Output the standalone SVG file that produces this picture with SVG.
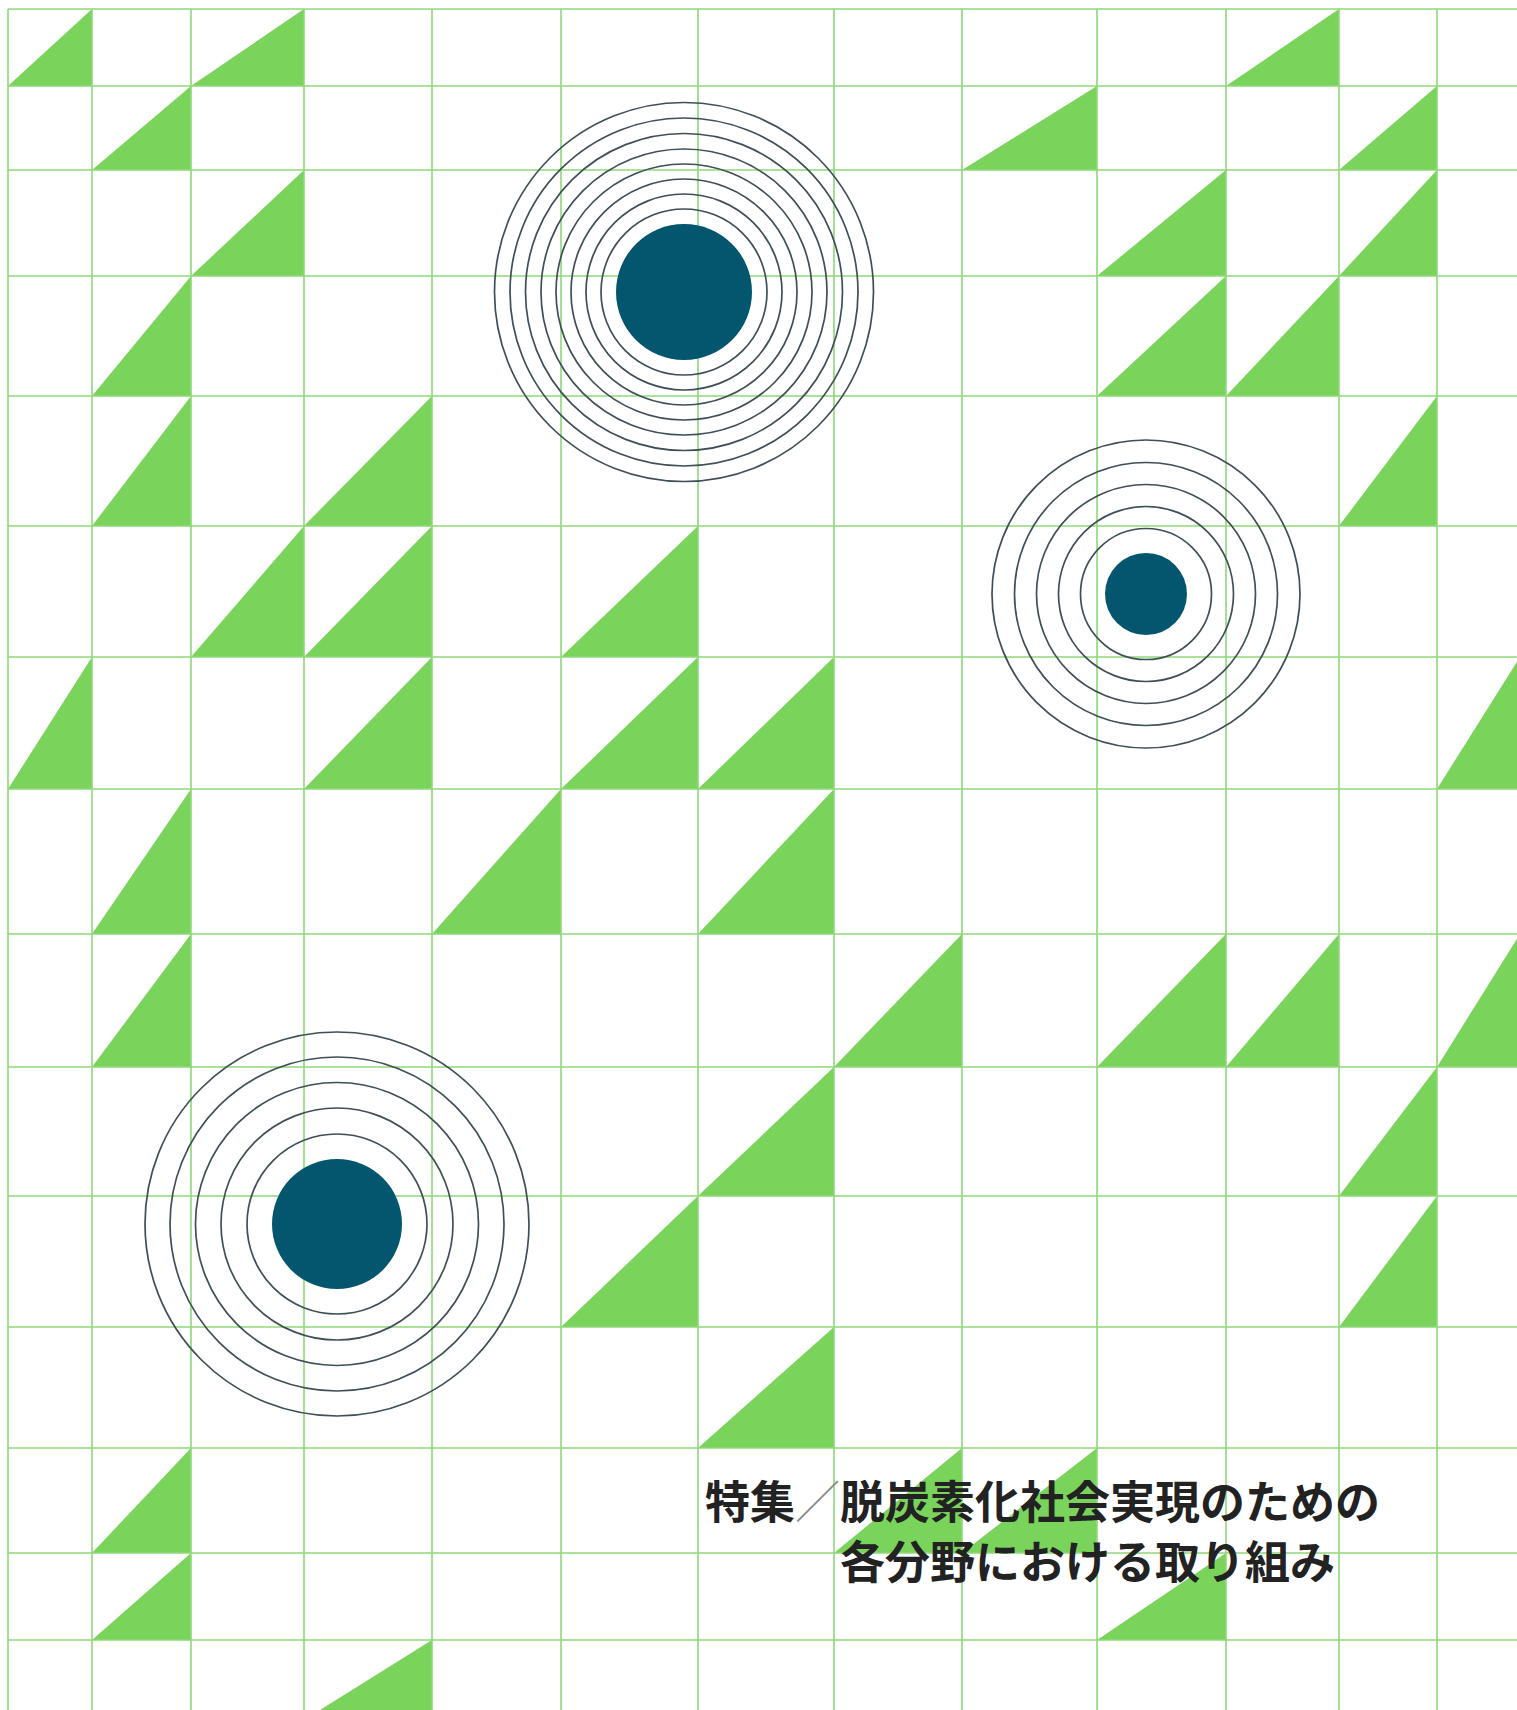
<svg xmlns="http://www.w3.org/2000/svg" width="1517" height="1710" viewBox="0 0 1517 1710">
<style>
.t{fill:#7ad35a}
.g{stroke:#8ed97a;stroke-width:1.6;fill:none}
.r{stroke:#3f4f58;stroke-width:1.7;fill:none}
.d{fill:#04566e}
.tx{font-family:"Noto Sans CJK JP","Noto Sans CJK SC",sans-serif;font-size:45px;font-weight:700;fill:#222}
.sl{fill:#8a8a8a;font-weight:300}
</style>
<rect width="1517" height="1710" fill="#fff"/>
<g id="triangles">
<polygon class="t" points="8,86 92,86 92,9"/>
<polygon class="t" points="191,86 304,86 304,9"/>
<polygon class="t" points="1226,86 1339,86 1339,9"/>
<polygon class="t" points="92,170 191,170 191,86"/>
<polygon class="t" points="962,170 1097,170 1097,86"/>
<polygon class="t" points="1339,170 1437,170 1437,86"/>
<polygon class="t" points="191,276 304,276 304,170"/>
<polygon class="t" points="1097,276 1226,276 1226,170"/>
<polygon class="t" points="1339,276 1437,276 1437,170"/>
<polygon class="t" points="92,396 191,396 191,276"/>
<polygon class="t" points="1097,396 1226,396 1226,276"/>
<polygon class="t" points="1226,396 1339,396 1339,276"/>
<polygon class="t" points="92,526 191,526 191,396"/>
<polygon class="t" points="304,526 432,526 432,396"/>
<polygon class="t" points="1339,526 1437,526 1437,396"/>
<polygon class="t" points="191,657 304,657 304,526"/>
<polygon class="t" points="304,657 432,657 432,526"/>
<polygon class="t" points="561,657 698,657 698,526"/>
<polygon class="t" points="8,789 92,789 92,657"/>
<polygon class="t" points="304,789 432,789 432,657"/>
<polygon class="t" points="561,789 698,789 698,657"/>
<polygon class="t" points="698,789 834,789 834,657"/>
<polygon class="t" points="1437,789 1520,789 1520,657"/>
<polygon class="t" points="92,934 191,934 191,789"/>
<polygon class="t" points="432,934 561,934 561,789"/>
<polygon class="t" points="698,934 834,934 834,789"/>
<polygon class="t" points="92,1067 191,1067 191,934"/>
<polygon class="t" points="834,1067 962,1067 962,934"/>
<polygon class="t" points="1097,1067 1226,1067 1226,934"/>
<polygon class="t" points="1226,1067 1339,1067 1339,934"/>
<polygon class="t" points="1437,1067 1520,1067 1520,934"/>
<polygon class="t" points="698,1196 834,1196 834,1067"/>
<polygon class="t" points="1339,1196 1437,1196 1437,1067"/>
<polygon class="t" points="561,1327 698,1327 698,1196"/>
<polygon class="t" points="1339,1327 1437,1327 1437,1196"/>
<polygon class="t" points="698,1448 834,1448 834,1327"/>
<polygon class="t" points="92,1553 191,1553 191,1448"/>
<polygon class="t" points="834,1553 962,1553 962,1448"/>
<polygon class="t" points="962,1553 1097,1553 1097,1448"/>
<polygon class="t" points="92,1640 191,1640 191,1553"/>
<polygon class="t" points="1097,1640 1226,1640 1226,1553"/>
<polygon class="t" points="304,1720 432,1720 432,1640"/>
</g>
<g id="grid" class="g">
<path d="M8,9H1517M8,86H1517M8,170H1517M8,276H1517M8,396H1517M8,526H1517M8,657H1517M8,789H1517M8,934H1517M8,1067H1517M8,1196H1517M8,1327H1517M8,1448H1517M8,1553H1517M8,1640H1517"/>
<path d="M8,9V1710M92,9V1710M191,9V1710M304,9V1710M432,9V1710M561,9V1710M698,9V1710M834,9V1710M962,9V1710M1097,9V1710M1226,9V1710M1339,9V1710M1437,9V1710"/>
</g>
<g id="target-top">
<circle class="r" cx="684" cy="292" r="83"/>
<circle class="r" cx="684" cy="292" r="98"/>
<circle class="r" cx="684" cy="292" r="113"/>
<circle class="r" cx="684" cy="292" r="128"/>
<circle class="r" cx="684" cy="292" r="143"/>
<circle class="r" cx="684" cy="292" r="158.5"/>
<circle class="r" cx="684" cy="292" r="174"/>
<circle class="r" cx="684" cy="292" r="189.5"/>
<circle class="d" cx="684" cy="292" r="68"/>
</g>
<g id="target-right">
<circle class="r" cx="1146" cy="594" r="65.5"/>
<circle class="r" cx="1146" cy="594" r="87.5"/>
<circle class="r" cx="1146" cy="594" r="109.5"/>
<circle class="r" cx="1146" cy="594" r="131.5"/>
<circle class="r" cx="1146" cy="594" r="154"/>
<circle class="d" cx="1146" cy="594" r="41"/>
</g>
<g id="target-left">
<circle class="r" cx="337" cy="1224" r="90"/>
<circle class="r" cx="337" cy="1224" r="116"/>
<circle class="r" cx="337" cy="1224" r="141.5"/>
<circle class="r" cx="337" cy="1224" r="167"/>
<circle class="r" cx="337" cy="1224" r="192"/>
<circle class="d" cx="337" cy="1224" r="65"/>
</g>
<g id="title" class="tx">
<text x="705" y="1519">特集<tspan class="sl">／</tspan>脱炭素化社会実現のための</text>
<text x="840" y="1579">各分野における取り組み</text>
</g>
</svg>
